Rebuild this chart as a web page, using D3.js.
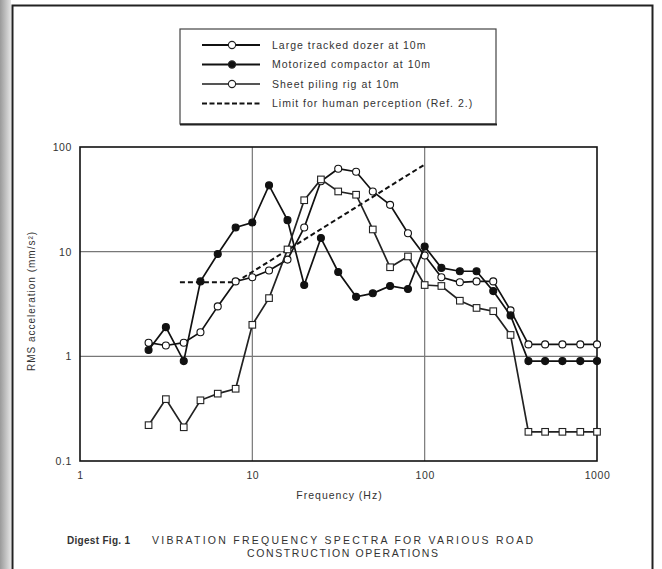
<!DOCTYPE html>
<html lang="en">
<head>
<meta charset="utf-8">
<title>Vibration frequency spectra</title>
<script src="https://cdn.jsdelivr.net/npm/d3@7"></script>
<style>
  body { margin: 0; background: #fff; }
  svg text { font-family: "Liberation Sans", Arial, sans-serif; fill: #333; }
  .axis text { font-size: 10.5px; letter-spacing: 0.6px; }
</style>
</head>
<body>
<div id="chart"></div>
<script>
// 1/3 octave band centre frequencies (Hz)
var freqs = [2.5, 3.15, 4, 5, 6.3, 8, 10, 12.5, 16, 20, 25, 31.5, 40, 50, 63, 80, 100, 125, 160, 200, 250, 315, 400, 500, 630, 800, 1000];

// RMS acceleration (mm/s2)
var dozer     = [1.35, 1.27, 1.35, 1.7, 3.0, 5.2, 5.7, 6.6, 8.4, 17, 47, 62, 58, 37.6, 28, 15, 9.2, 5.7, 5.1, 5.2, 5.2, 2.75, 1.3, 1.3, 1.3, 1.3, 1.3];
var compactor = [1.15, 1.9, 0.9, 5.2, 9.5, 17, 19, 43, 20, 4.8, 13.5, 6.4, 3.7, 4.0, 4.7, 4.4, 11.2, 7.0, 6.5, 6.5, 4.2, 2.46, 0.9, 0.9, 0.9, 0.9, 0.9];
var piling    = [0.22, 0.39, 0.21, 0.38, 0.44, 0.49, 2.0, 3.6, 10.5, 31, 49, 37.6, 35, 16.3, 7.1, 9.0, 4.8, 4.7, 3.4, 2.9, 2.7, 1.6, 0.19, 0.19, 0.19, 0.19, 0.19];

// limit for human perception
var limitFreqs = [3.8, 8, 100];
var limitVals  = [5.1, 5.1, 68];

var xTicks = [1, 10, 100, 1000];
var yTicks = [0.1, 1, 10, 100];
var legendLabels = ["Large tracked dozer at 10m", "Motorized compactor at 10m", "Sheet piling rig at 10m", "Limit for human perception (Ref. 2.)"];

var W = 662, H = 569;
var margin = {top: 147, left: 80},
    width = 517,
    height = 314;

var svg = d3.select("#chart").append("svg")
    .attr("width", W)
    .attr("height", H);

// page edge and scan border
var shade = svg.append("defs").append("linearGradient").attr("id", "shade");
shade.append("stop").attr("offset", "0%").attr("stop-color", "#9a9a9a");
shade.append("stop").attr("offset", "100%").attr("stop-color", "#e4e4e4");
svg.append("rect").attr("x", 0).attr("y", 0).attr("width", 11).attr("height", H).attr("fill", "url(#shade)");
svg.append("rect")
    .attr("x", 12.5).attr("y", 5.5)
    .attr("width", 640).attr("height", 620)
    .attr("fill", "none").attr("stroke", "#222").attr("stroke-width", 2);

var x = d3.scaleLog().domain([1, 1000]).range([0, width]);
var y = d3.scaleLog().domain([0.1, 100]).range([height, 0]);

var chart = svg.append("g")
    .attr("transform", "translate(" + margin.left + "," + margin.top + ")");

// grid
chart.selectAll(".vgrid").data([10, 100]).enter().append("line")
    .attr("x1", function(d) { return x(d); }).attr("x2", function(d) { return x(d); })
    .attr("y1", 0).attr("y2", height)
    .attr("stroke", "#777").attr("stroke-width", 1.2);
chart.selectAll(".hgrid").data([1, 10]).enter().append("line")
    .attr("y1", function(d) { return y(d); }).attr("y2", function(d) { return y(d); })
    .attr("x1", 0).attr("x2", width)
    .attr("stroke", "#777").attr("stroke-width", 1.2);

chart.append("rect")
    .attr("width", width).attr("height", height)
    .attr("fill", "none").attr("stroke", "#111").attr("stroke-width", 1.6);

var xAxis = d3.axisBottom(x).tickValues(xTicks).tickSize(0).tickPadding(11)
    .tickFormat(d3.format("d"));
var yAxis = d3.axisLeft(y).tickValues(yTicks).tickSize(0).tickPadding(8)
    .tickFormat(function(d) { return d < 1 ? "0.1" : d3.format("d")(d); });

chart.append("g").attr("class", "x axis")
    .attr("transform", "translate(0," + height + ")")
    .call(xAxis)
    .call(function(g) { g.select(".domain").remove(); });
chart.append("g").attr("class", "y axis")
    .call(yAxis)
    .call(function(g) { g.select(".domain").remove(); });

chart.append("text")
    .attr("x", width / 2 + 1).attr("y", height + 38)
    .attr("text-anchor", "middle").attr("font-size", 10.5)
    .attr("letter-spacing", 1)
    .text("Frequency (Hz)");
chart.append("text")
    .attr("transform", "translate(-45," + (height / 2 - 3) + ") rotate(-90)")
    .attr("text-anchor", "middle").attr("font-size", 10)
    .attr("letter-spacing", 1)
    .text("RMS acceleration (mm/s²)");

var line = d3.line()
    .x(function(d) { return x(d[0]); })
    .y(function(d) { return y(d[1]); });

function pairs(fs, vs) { return fs.map(function(f, i) { return [f, vs[i]]; }); }

var series = [
    {vals: dozer, marker: "circle", fill: "#fff", stroke: "#111"},
    {vals: compactor, marker: "circle", fill: "#111", stroke: "#111"},
    {vals: piling, marker: "square", fill: "#fff", stroke: "#222"}
];

// dashed limit line
chart.append("path")
    .datum(pairs(limitFreqs, limitVals))
    .attr("d", line)
    .attr("fill", "none").attr("stroke", "#111")
    .attr("stroke-width", 2).attr("stroke-dasharray", "5,3");

series.forEach(function(s) {
    var pts = pairs(freqs, s.vals);
    chart.append("path")
        .datum(pts)
        .attr("d", line)
        .attr("fill", "none").attr("stroke", s.stroke).attr("stroke-width", 1.7);
    if (s.marker == "circle") {
        chart.selectAll(null).data(pts).enter().append("circle")
            .attr("cx", function(d) { return x(d[0]); })
            .attr("cy", function(d) { return y(d[1]); })
            .attr("r", 3.5)
            .attr("fill", s.fill).attr("stroke", s.stroke).attr("stroke-width", 1.1);
    } else {
        chart.selectAll(null).data(pts).enter().append("rect")
            .attr("x", function(d) { return x(d[0]) - 3.3; })
            .attr("y", function(d) { return y(d[1]) - 3.3; })
            .attr("width", 6.6).attr("height", 6.6)
            .attr("fill", s.fill).attr("stroke", s.stroke).attr("stroke-width", 1.1);
    }
});

// legend
var legend = svg.append("g").attr("transform", "translate(180,29)");
legend.append("rect")
    .attr("width", 316).attr("height", 95)
    .attr("fill", "#fff").attr("stroke", "#444").attr("stroke-width", 1.2);
legend.append("line")
    .attr("x1", 0).attr("x2", 317).attr("y1", 95.5).attr("y2", 95.5)
    .attr("stroke", "#222").attr("stroke-width", 2);

var rows = legend.selectAll(".row").data(legendLabels).enter().append("g")
    .attr("transform", function(d, i) { return "translate(0," + (16 + i * 19.5) + ")"; });
rows.append("line")
    .attr("x1", 22).attr("x2", 80)
    .attr("stroke", function(d, i) { return i == 2 ? "#555" : "#111"; })
    .attr("stroke-width", function(d, i) { return i == 3 ? 2.2 : 1.8; })
    .attr("stroke-dasharray", function(d, i) { return i == 3 ? "5,2.5" : null; });
rows.filter(function(d, i) { return i < 3; }).append("circle")
    .attr("cx", 52).attr("r", 3.6)
    .attr("fill", function(d, i) { return i == 1 ? "#111" : "#fff"; })
    .attr("stroke", "#222").attr("stroke-width", 1.1);
rows.append("text")
    .attr("x", 92).attr("dy", "0.35em")
    .attr("font-size", 10.5).attr("fill", "#444")
    .attr("letter-spacing", 1)
    .text(function(d) { return d; });

// caption
svg.append("text")
    .attr("x", 67).attr("y", 544)
    .attr("font-size", 10).attr("font-weight", "bold").attr("fill", "#222")
    .attr("letter-spacing", 0.3)
    .text("Digest Fig. 1");
svg.append("text")
    .attr("x", 152).attr("y", 544)
    .attr("font-size", 10.5).attr("fill", "#222")
    .attr("textLength", 381).attr("lengthAdjust", "spacing")
    .text("VIBRATION FREQUENCY SPECTRA FOR VARIOUS ROAD");
svg.append("text")
    .attr("x", 247).attr("y", 557)
    .attr("font-size", 10.5).attr("fill", "#222")
    .attr("textLength", 191).attr("lengthAdjust", "spacing")
    .text("CONSTRUCTION OPERATIONS");
</script>
</body>
</html>
